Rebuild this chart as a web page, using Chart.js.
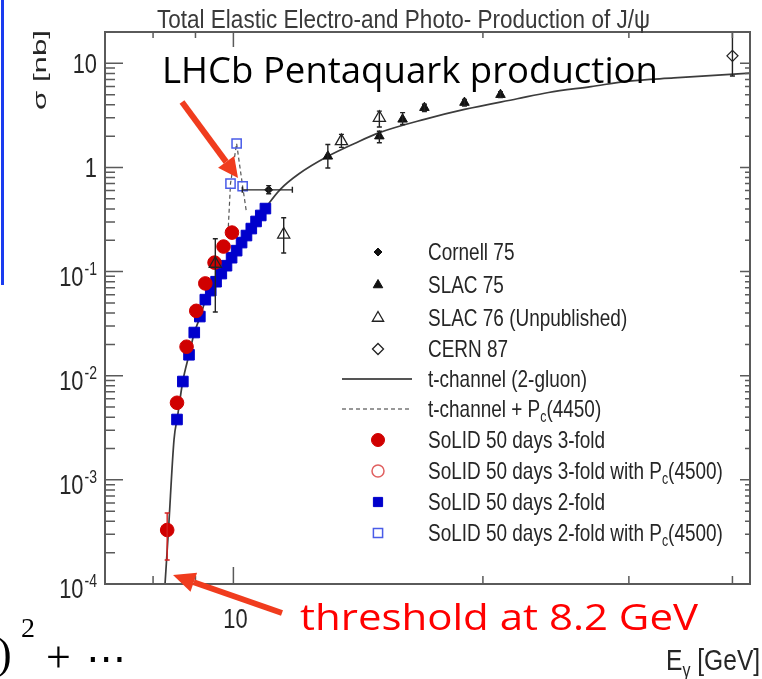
<!DOCTYPE html>
<html>
<head>
<meta charset="utf-8">
<title>Total Elastic Electro- and Photo-Production of J/psi</title>
<script src="https://cdn.jsdelivr.net/npm/chart.js@4.4.1/dist/chart.umd.min.js"></script>
<style>
  html, body { margin: 0; padding: 0; background: #fff; }
  #wrap { width: 762px; height: 679px; }
</style>
</head>
<body>
<div id="wrap"><canvas id="plot" width="762" height="679"></canvas></div>
<script>
// ---------------- data (E in GeV, sigma in nb) ----------------
const cornellE = [11.03];
const cornellS = [0.61];
const cornellLo = [0.56];
const cornellHi = [0.67];
const cornellELo = [10.25];
const cornellEHi = [11.78];

const slac75E = [13.0, 15.0, 16.0, 17.0, 19.0, 21.0];
const slac75S = [1.28, 2.0, 2.9, 3.75, 4.2, 5.0];
const slac75Lo = [0.99, 1.73, 2.59, 3.45, 3.9, 4.7];
const slac75Hi = [1.66, 2.23, 3.36, 4.05, 4.5, 5.35];

const slac76E = [9.51, 11.5, 13.5, 15.0];
const slac76S = [0.119, 0.227, 1.79, 3.0];
const slac76Lo = [0.041, 0.151, 1.56, 2.45];
const slac76Hi = [0.207, 0.329, 2.08, 3.48];

const cern87E = [40.0];
const cern87S = [11.8];
const cern87Lo = [7.55];
const cern87Hi = [25];

// t-channel (2-gluon) curve
const tchanE = [8.27, 8.35, 8.48, 8.56, 8.69, 8.84, 8.97, 9.12, 9.25, 9.5, 9.75, 10.0, 10.25, 10.5,
                10.75, 11.0, 11.4, 12.0, 13.0, 14.0, 15.0, 17.0, 19.0, 22.0, 24.0, 27.0, 30.0, 34.0, 38.0, 42.0];
const tchanS = [1.0e-4, 3.3e-4, 0.00245, 0.0040, 0.0089, 0.0159, 0.0257, 0.037, 0.0525, 0.0776, 0.106, 0.141, 0.188, 0.251,
                0.331, 0.436, 0.62, 0.87, 1.28, 1.70, 2.16, 2.90, 3.61, 4.57, 5.25, 5.98, 6.76, 7.24, 7.67, 8.04];

// t-channel + Pc(4450)
const pcE = [9.86, 9.92, 10.09, 10.26, 10.37];
const pcS = [0.27, 0.70, 1.70, 0.66, 0.37];

// SoLID projections
const fold3E = [8.32, 8.55, 8.78, 9.02, 9.25, 9.49, 9.73, 9.96];
const fold3S = [3.3e-4, 0.0055, 0.019, 0.042, 0.077, 0.122, 0.174, 0.237];
const fold3ErrE = [8.32];
const fold3ErrLo = [1.7e-4];
const fold3ErrHi = [4.8e-4];

const fold3PcE = [];
const fold3PcS = [];

const fold2E = [8.55, 8.69, 8.84, 8.97, 9.11, 9.25, 9.39, 9.53, 9.67, 9.81, 9.95, 10.09, 10.23, 10.37,
                10.51, 10.65, 10.79, 10.93];
const fold2S = [0.0038, 0.0088, 0.0159, 0.026, 0.037, 0.0538, 0.0657, 0.080, 0.0957, 0.114, 0.136, 0.159, 0.190, 0.222,
                0.259, 0.303, 0.346, 0.403];

const fold2PcE = [9.92, 10.09, 10.26];
const fold2PcS = [0.70, 1.70, 0.66];

// axes
const xMin = 7, xMax = 42, yMin = 1e-4, yMax = 20;
const xTicks = [8, 9, 10, 20, 30, 40];
const xMajor = [10];
const xLabelVals = [10];
const xLabels = ['10'];
const yDecades = [1e-4, 1e-3, 1e-2, 1e-1, 1, 10];
const yLabels = ['10^{-4}', '10^{-3}', '10^{-2}', '10^{-1}', '1', '10'];
const yMinorSteps = [2, 3, 4, 5, 6, 7, 8, 9];

const legendOrder = ['Cornell 75', 'SLAC 75', 'SLAC 76 (Unpublished)', 'CERN 87',
  't-channel (2-gluon)', 't-channel + P_{c}(4450)', 'SoLID 50 days 3-fold',
  'SoLID 50 days 3-fold with P_{c}(4500)', 'SoLID 50 days 2-fold', 'SoLID 50 days 2-fold with P_{c}(4500)'];

function pts(E, S) { return E.map((e, i) => ({ x: e, y: S[i] })); }

const CLEAR = 'rgba(0,0,0,0)';
const FONT = '"Liberation Sans", Arial, sans-serif';
const SLIDE_FONT = '"Open Sans", "Noto Sans", sans-serif';
const SX = 0.78; // narrow ROOT-style lettering
const INK = '#262626';

// first dataset is painted last (on top)
const datasets = [
  { label: 'SLAC 76 (Unpublished)', data: pts(slac76E, slac76S), pointStyle: 'triangle', pointRadius: 7,
    borderColor: '#222', backgroundColor: CLEAR, borderWidth: 1.3 },
  { label: 'SLAC 75', data: pts(slac75E, slac75S), pointStyle: 'triangle', pointRadius: 5.5,
    borderColor: '#111', backgroundColor: '#111', borderWidth: 1 },
  { label: 'Cornell 75', data: pts(cornellE, cornellS), pointStyle: 'rectRot', pointRadius: 4,
    borderColor: '#111', backgroundColor: '#111', borderWidth: 1 },
  { label: 'CERN 87', data: pts(cern87E, cern87S), pointStyle: 'rectRot', pointRadius: 5.5,
    borderColor: '#222', backgroundColor: CLEAR, borderWidth: 1.3 },
  { label: 'SoLID 50 days 2-fold with P_{c}(4500)', data: pts(fold2PcE, fold2PcS), pointStyle: 'rect', pointRadius: 6.5,
    borderColor: '#4a5ce8', backgroundColor: CLEAR, borderWidth: 1.5 },
  { label: 'SoLID 50 days 3-fold with P_{c}(4500)', data: pts(fold3PcE, fold3PcS), pointStyle: 'circle', pointRadius: 6,
    borderColor: '#e06060', backgroundColor: CLEAR, borderWidth: 1.5 },
  { label: 'SoLID 50 days 3-fold', data: pts(fold3E, fold3S), pointStyle: 'circle', pointRadius: 6.8,
    borderColor: '#d00000', backgroundColor: '#d00000', borderWidth: 1 },
  { label: 'SoLID 50 days 2-fold', data: pts(fold2E, fold2S), pointStyle: 'rect', pointRadius: 7.5,
    borderColor: '#0000cc', backgroundColor: '#0000cc', borderWidth: 1 },
  { label: 't-channel + P_{c}(4450)', data: pts(pcE, pcS), showLine: true, pointRadius: 0,
    borderColor: '#555', borderWidth: 1.2, borderDash: [4, 3] },
  { label: 't-channel (2-gluon)', data: pts(tchanE, tchanS), showLine: true, pointRadius: 0,
    borderColor: '#3c3c3c', borderWidth: 1.7, cubicInterpolationMode: 'monotone' }
];

const errorSets = [
  { E: slac76E, S: slac76S, lo: slac76Lo, hi: slac76Hi, color: '#222' },
  { E: slac75E, S: slac75S, lo: slac75Lo, hi: slac75Hi, color: '#222' },
  { E: cornellE, S: cornellS, lo: cornellLo, hi: cornellHi, eLo: cornellELo, eHi: cornellEHi, color: '#222' },
  { E: cern87E, S: cern87S, lo: cern87Lo, hi: cern87Hi, color: '#222' },
  { E: fold3ErrE, S: fold3ErrE, lo: fold3ErrLo, hi: fold3ErrHi, color: '#d42020' }
];

// ---------------- text helpers ----------------
function parseRich(s) {
  const out = [];
  s.split(/(\^\{[^}]*\}|_\{[^}]*\})/).forEach(p => {
    if (!p) return;
    if (p[0] === '^') out.push([p.slice(2, -1), 1]);
    else if (p[0] === '_') out.push([p.slice(2, -1), -1]);
    else out.push([p, 0]);
  });
  return out;
}

function richWidth(ctx, parts, px, family) {
  let w = 0;
  parts.forEach(([t, k]) => {
    ctx.font = (k ? px * 0.65 : px) + 'px ' + family;
    w += ctx.measureText(t).width;
  });
  return w;
}

function drawRich(ctx, s, x, y, px, color, sx, align, family) {
  family = family || FONT;
  const parts = parseRich(s);
  ctx.save();
  const w = richWidth(ctx, parts, px, family) * sx;
  let x0 = align === 'right' ? x - w : align === 'center' ? x - w / 2 : x;
  ctx.translate(x0, y);
  ctx.scale(sx, 1);
  ctx.fillStyle = color;
  ctx.textAlign = 'left';
  ctx.textBaseline = 'alphabetic';
  let cx = 0;
  parts.forEach(([t, k]) => {
    ctx.font = (k ? px * 0.65 : px) + 'px ' + family;
    const dy = k < 0 ? px * 0.22 : k > 0 ? -px * 0.4 : 0;
    ctx.fillText(t, cx, dy);
    cx += ctx.measureText(t).width;
  });
  ctx.restore();
}

// text stretched to a given width
function fitText(ctx, s, x, y, width, font, color) {
  ctx.save();
  ctx.font = font;
  const sx = width / ctx.measureText(s).width;
  ctx.translate(x, y);
  ctx.scale(sx, 1);
  ctx.fillStyle = color;
  ctx.textAlign = 'left';
  ctx.textBaseline = 'alphabetic';
  ctx.fillText(s, 0, 0);
  ctx.restore();
}

function arrow(ctx, x0, y0, x1, y1, color, lw, headLen, headW) {
  const a = Math.atan2(y1 - y0, x1 - x0);
  const bx = x1 - headLen * Math.cos(a), by = y1 - headLen * Math.sin(a);
  ctx.save();
  ctx.strokeStyle = color;
  ctx.lineWidth = lw;
  ctx.beginPath();
  ctx.moveTo(x0, y0);
  ctx.lineTo(bx, by);
  ctx.stroke();
  ctx.fillStyle = color;
  ctx.beginPath();
  ctx.moveTo(x1, y1);
  ctx.lineTo(bx + headW / 2 * Math.sin(a), by - headW / 2 * Math.cos(a));
  ctx.lineTo(bx - headW / 2 * Math.sin(a), by + headW / 2 * Math.cos(a));
  ctx.closePath();
  ctx.fill();
  ctx.restore();
}

// ---------------- plugin: frame, ticks, error bars, labels, legend ----------------
const decor = {
  id: 'decor',
  beforeDraw(chart) {
    const ctx = chart.ctx;
    ctx.save();
    ctx.fillStyle = '#fff';
    ctx.fillRect(0, 0, chart.width, chart.height);
    ctx.restore();
  },
  afterDatasetsDraw(chart) {
    const ctx = chart.ctx, xs = chart.scales.x, ys = chart.scales.y, a = chart.chartArea;
    ctx.save();
    ctx.beginPath();
    ctx.rect(a.left, a.top, a.right - a.left, a.bottom - a.top);
    ctx.clip();
    ctx.lineWidth = 1.4;
    errorSets.forEach(set => {
      ctx.strokeStyle = set.color;
      set.E.forEach((e, i) => {
        const px = xs.getPixelForValue(e);
        const yl = ys.getPixelForValue(set.lo[i]), yh = ys.getPixelForValue(set.hi[i]);
        ctx.beginPath();
        ctx.moveTo(px, yl); ctx.lineTo(px, yh);
        ctx.moveTo(px - 2.5, yl); ctx.lineTo(px + 2.5, yl);
        ctx.moveTo(px - 2.5, yh); ctx.lineTo(px + 2.5, yh);
        if (set.eLo) {
          const py = ys.getPixelForValue(set.S[i]);
          const xl = xs.getPixelForValue(set.eLo[i]), xh = xs.getPixelForValue(set.eHi[i]);
          ctx.moveTo(xl, py); ctx.lineTo(xh, py);
          ctx.moveTo(xl, py - 3); ctx.lineTo(xl, py + 3);
          ctx.moveTo(xh, py - 3); ctx.lineTo(xh, py + 3);
        }
        ctx.stroke();
      });
    });
    ctx.restore();
  },
  afterDraw(chart) {
    const ctx = chart.ctx, xs = chart.scales.x, ys = chart.scales.y, a = chart.chartArea;

    // frame
    ctx.save();
    ctx.strokeStyle = '#5a5a5a';
    ctx.lineWidth = 2;
    ctx.strokeRect(a.left, a.top, a.right - a.left, a.bottom - a.top);

    // inward tick marks
    ctx.lineWidth = 1.5;
    ctx.beginPath();
    xTicks.forEach(v => {
      const p = xs.getPixelForValue(v), major = xMajor.includes(v);
      ctx.moveTo(p, a.bottom); ctx.lineTo(p, a.bottom - (major ? 17 : 8));
      ctx.moveTo(p, a.top); ctx.lineTo(p, a.top + (major ? 15 : 6));
    });
    yDecades.forEach(d => {
      const p = ys.getPixelForValue(d);
      ctx.moveTo(a.left, p); ctx.lineTo(a.left + 18, p);
      ctx.moveTo(a.right, p); ctx.lineTo(a.right - 10, p);
      yMinorSteps.forEach(m => {
        const v = d * m;
        if (v > yMax) return;
        const q = ys.getPixelForValue(v);
        ctx.moveTo(a.left, q); ctx.lineTo(a.left + 10, q);
        ctx.moveTo(a.right, q); ctx.lineTo(a.right - 5, q);
      });
    });
    ctx.stroke();
    ctx.restore();

    // tick labels
    yDecades.forEach((d, i) => {
      const p = ys.getPixelForValue(d);
      const lab = yLabels[i];
      if (lab.includes('^')) {
        const base = lab.split('^')[0];
        const sup = lab.slice(lab.indexOf('{') + 1, -1);
        ctx.save();
        ctx.font = '18px ' + FONT;
        const sw = ctx.measureText(sup).width * SX;
        ctx.restore();
        drawRich(ctx, sup, 97, p + 3, 18, INK, SX, 'right');
        drawRich(ctx, base, 97 - sw - 1, p + 14, 28, INK, SX, 'right');
      } else {
        drawRich(ctx, lab, 97, p + 10, 28, INK, SX, 'right');
      }
    });
    xLabelVals.forEach((v, i) => {
      drawRich(ctx, xLabels[i], xs.getPixelForValue(v) + 2, 628, 28, INK, SX, 'center');
    });

    // titles
    fitText(ctx, 'Total Elastic Electro-and Photo- Production of J/\u03c8', 157, 28, 493, '25px ' + FONT, '#3a3a3a');
    ctx.save();
    ctx.translate(46, 110);
    ctx.rotate(-Math.PI / 2);
    ctx.scale(1, SX);
    fitText(ctx, '\u03c3 [nb]', 0, 0, 80, '24px ' + FONT, INK);
    ctx.restore();
    drawRich(ctx, 'E_{\u03b3} [GeV]', 666, 670, 30, INK, 0.82, 'left');

    // legend
    const rowY = [252, 285, 318, 349, 379, 409, 440, 471, 502, 533];
    legendOrder.forEach((name, i) => {
      const ds = chart.data.datasets.find(d => d.label === name);
      const y = rowY[i];
      ctx.save();
      if (ds.showLine) {
        ctx.strokeStyle = ds.borderDash ? '#777' : '#555';
        ctx.lineWidth = ds.borderDash ? 1.6 : 2;
        ctx.setLineDash(ds.borderDash || []);
        ctx.beginPath();
        ctx.moveTo(342, y); ctx.lineTo(412, y);
        ctx.stroke();
      } else {
        ctx.fillStyle = ds.backgroundColor;
        ctx.strokeStyle = ds.borderColor;
        ctx.lineWidth = ds.borderWidth;
        Chart.helpers.drawPoint(ctx, {
          pointStyle: ds.pointStyle, rotation: 0,
          radius: Math.min(ds.pointRadius, 6.5), borderWidth: ds.borderWidth
        }, 378, y);
      }
      ctx.restore();
      drawRich(ctx, name, 428, y + 8, 24, INK, 0.79, 'left');
    });

    // slide annotations
    fitText(ctx, 'LHCb Pentaquark production', 162, 83, 496, '36px ' + SLIDE_FONT, '#000');
    arrow(ctx, 182, 102, 238, 178, '#f03c1e', 6, 20, 20);
    fitText(ctx, 'threshold at 8.2 GeV', 300, 630, 398, '36px ' + SLIDE_FONT, '#ff0000');
    arrow(ctx, 282, 613, 173, 575, '#f03c1e', 6, 22, 20);

    ctx.save();
    ctx.fillStyle = '#1a3cf0';
    ctx.fillRect(1, 0, 3, 285);
    ctx.fillStyle = '#000';
    ctx.textBaseline = 'alphabetic';
    ctx.font = '44px "Liberation Serif", "DejaVu Serif", serif';
    ctx.fillText(')', -3, 668);
    ctx.fillText('+', 46, 672);
    ctx.font = '28px "Liberation Serif", "DejaVu Serif", serif';
    ctx.fillText('2', 21, 637);
    ctx.font = '40px "DejaVu Sans", sans-serif';
    ctx.fillText('\u22ef', 86, 672);
    ctx.restore();
  }
};

new Chart(document.getElementById('plot'), {
  type: 'scatter',
  data: { datasets: datasets },
  options: {
    responsive: false,
    animation: false,
    devicePixelRatio: 1,
    events: [],
    layout: { padding: { left: 105, top: 32, right: 12, bottom: 95 } },
    plugins: { legend: { display: false }, tooltip: { enabled: false } },
    scales: {
      x: { type: 'logarithmic', min: xMin, max: xMax, display: false },
      y: { type: 'logarithmic', min: yMin, max: yMax, display: false }
    }
  },
  plugins: [decor]
});
</script>
</body>
</html>
